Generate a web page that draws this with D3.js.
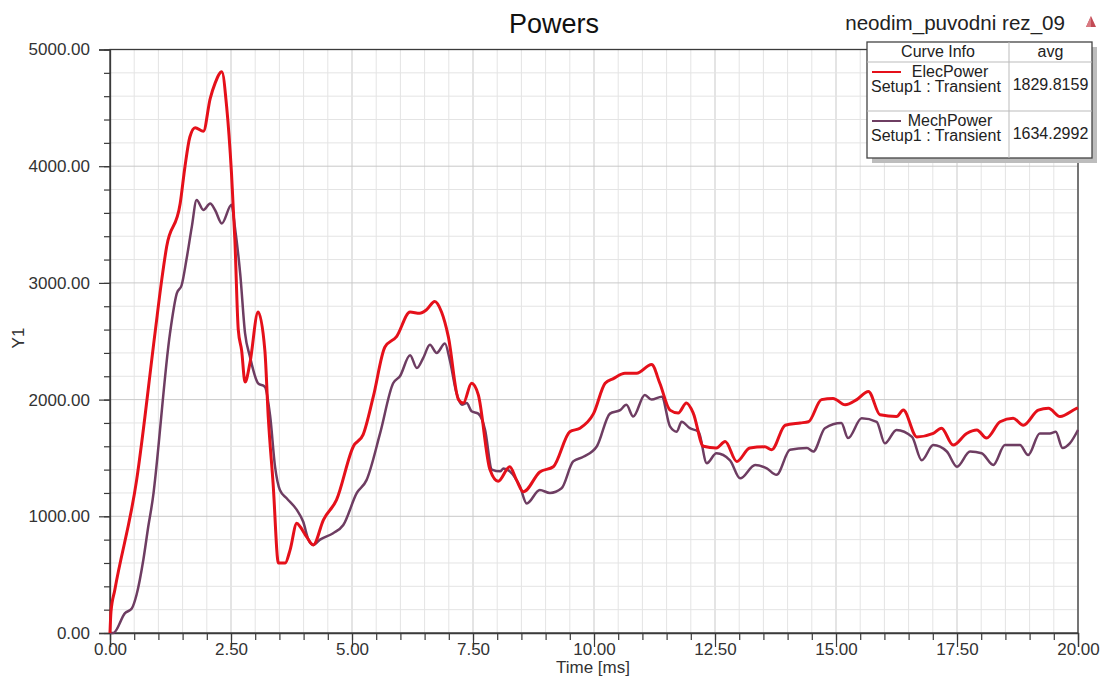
<!DOCTYPE html>
<html>
<head>
<meta charset="utf-8">
<script src="https://cdn.jsdelivr.net/npm/d3@7"></script>
<style>
  html, body { margin: 0; padding: 0; background: #fff; }
  svg { display: block; font-family: "Liberation Sans", Arial, sans-serif; }
</style>
</head>
<body>
<svg id="chart" width="1107" height="680"></svg>
<script>
// ---- data ----
const elecTime = [0,0.02,0.1,0.55,0.93,1.07,1.17,1.45,1.55,1.65,1.76,1.93,2.07,2.17,2.31,2.41,2.51,2.58,2.65,2.72,2.79,2.89,3.06,3.2,3.27,3.37,3.48,3.62,3.72,3.86,3.93,4.06,4.2,4.41,4.68,5.03,5.23,5.44,5.68,5.92,6.2,6.4,6.54,6.71,6.85,6.99,7.2,7.3,7.47,7.61,7.85,8.02,8.26,8.4,8.54,8.88,9.16,9.5,9.71,9.99,10.23,10.4,10.64,10.88,11.19,11.36,11.57,11.74,11.91,12.05,12.26,12.53,12.71,12.95,13.22,13.53,13.67,13.95,14.26,14.43,14.7,14.94,15.19,15.43,15.67,15.91,16.25,16.39,16.67,17.01,17.18,17.42,17.7,17.91,18.11,18.39,18.66,18.87,19.18,19.39,19.63,19.97,20];
const elecPower = [0,180,370,1310,2570,3030,3310,3680,4000,4250,4330,4300,4580,4710,4810,4510,3940,3370,2600,2420,2150,2310,2750,2420,1850,1280,600,600,710,940,910,825,755,970,1140,1600,1700,2025,2450,2540,2750,2740,2770,2840,2750,2540,2000,1970,2140,2040,1400,1300,1425,1310,1210,1380,1425,1725,1755,1880,2140,2180,2225,2225,2300,2140,1910,1885,1970,1885,1600,1585,1640,1470,1585,1595,1570,1780,1800,1810,2000,2010,1955,2000,2070,1870,1855,1910,1680,1710,1755,1610,1710,1740,1670,1810,1840,1780,1910,1925,1855,1925,1930];
const mechTime = [0,0.07,0.31,0.45,0.55,0.69,0.79,0.9,0.93,1.24,1.38,1.48,1.58,1.69,1.79,1.93,2.07,2.17,2.31,2.51,2.58,2.69,2.79,2.89,3.06,3.2,3.31,3.41,3.51,3.65,3.86,3.99,4.1,4.2,4.34,4.61,4.82,5.1,5.3,5.58,5.85,5.99,6.2,6.34,6.47,6.61,6.75,6.92,7.02,7.16,7.27,7.37,7.47,7.61,7.75,7.89,8.06,8.13,8.26,8.47,8.61,8.88,9.09,9.33,9.57,9.78,10.06,10.33,10.54,10.67,10.81,11.05,11.19,11.4,11.57,11.71,11.81,11.98,12.16,12.33,12.53,12.81,13.02,13.33,13.57,13.77,14.05,14.4,14.53,14.77,15.11,15.25,15.53,15.84,16.01,16.25,16.57,16.77,17.01,17.29,17.5,17.77,18.01,18.25,18.49,18.8,18.97,19.21,19.42,19.54,19.68,19.83,20];
const mechPower = [0,0,170,210,330,630,910,1200,1310,2570,2910,2980,3200,3480,3710,3625,3680,3625,3510,3670,3480,3080,2570,2370,2140,2110,1855,1425,1225,1155,1055,955,800,755,800,855,925,1200,1310,1710,2140,2200,2380,2270,2355,2470,2400,2480,2340,2055,1955,1970,1900,1880,1740,1400,1385,1410,1385,1255,1110,1225,1200,1240,1470,1510,1600,1880,1910,1955,1855,2040,2000,2025,1770,1725,1810,1755,1725,1455,1540,1480,1325,1440,1410,1355,1570,1585,1555,1755,1800,1670,1840,1810,1625,1740,1680,1480,1610,1555,1425,1555,1540,1440,1610,1610,1525,1710,1710,1725,1585,1625,1740];

const xMajorTicks = [0, 2.5, 5, 7.5, 10, 12.5, 15, 17.5, 20];
const yMajorTicks = [0, 1000, 2000, 3000, 4000, 5000];
const xMinorTicks = d3.range(0, 20.001, 0.5);
const yMinorTicks = d3.range(0, 5000.1, 200);

const legendNames = ["ElecPower", "MechPower"];
const legendSetup = ["Setup1 : Transient", "Setup1 : Transient"];
const legendAvg = ["1829.8159", "1634.2992"];
const seriesColors = ["#e5101a", "#6e3d62"];

// ---- layout ----
const svg = d3.select("#chart");
const L = 110, R = 1078, T = 49.5, B = 633;
const x = d3.scaleLinear().domain([0, 20]).range([L, R]);
const y = d3.scaleLinear().domain([0, 5000]).range([B, T]);

// grid
const grid = svg.append("g");
grid.selectAll("line.vx").data(xMinorTicks).enter().append("line")
  .attr("x1", d => x(d)).attr("x2", d => x(d)).attr("y1", T).attr("y2", B)
  .attr("stroke", d => (Math.abs(d / 2.5 - Math.round(d / 2.5)) < 1e-6) ? "#c9c9c9" : "#e4e4e4")
  .attr("stroke-width", 1);
grid.selectAll("line.hy").data(yMinorTicks).enter().append("line")
  .attr("y1", d => y(d)).attr("y2", d => y(d)).attr("x1", L).attr("x2", R)
  .attr("stroke", d => (d % 1000 === 0) ? "#c9c9c9" : "#e4e4e4")
  .attr("stroke-width", 1);

// frame
svg.append("rect").attr("x", L).attr("y", T).attr("width", R - L).attr("height", B - T)
  .attr("fill", "none").attr("stroke", "#3a3a3a").attr("stroke-width", 1.3);

// minor ticks
const xMinorAxis = svg.append("g").attr("transform", `translate(0,${B})`)
  .call(d3.axisBottom(x).tickValues(xMinorTicks).tickSize(7).tickFormat(""));
const yMinorAxis = svg.append("g").attr("transform", `translate(${L},0)`)
  .call(d3.axisLeft(y).tickValues(yMinorTicks).tickSize(6).tickFormat(""));
[xMinorAxis, yMinorAxis].forEach(g => {
  g.select(".domain").remove();
  g.selectAll("line").attr("stroke", "#3a3a3a").attr("stroke-width", 1.2);
});

// major axes
const fmt = d3.format(".2f");
const xAxis = svg.append("g").attr("transform", `translate(0,${B})`)
  .call(d3.axisBottom(x).tickValues(xMajorTicks).tickSize(14).tickFormat(fmt));
xAxis.select(".domain").attr("stroke", "#3a3a3a").attr("stroke-width", 1.3);
xAxis.selectAll("line").attr("stroke", "#3a3a3a").attr("stroke-width", 1.2);
xAxis.selectAll("text").attr("y", 10).attr("dy", "0.71em")
  .attr("font-size", 17).attr("fill", "#333").attr("font-family", "Liberation Sans, Arial, sans-serif");

const yAxis = svg.append("g").attr("transform", `translate(${L},0)`)
  .call(d3.axisLeft(y).tickValues(yMajorTicks).tickSize(11).tickPadding(9).tickFormat(fmt));
yAxis.select(".domain").attr("stroke", "#3a3a3a").attr("stroke-width", 1.3);
yAxis.selectAll("line").attr("stroke", "#3a3a3a").attr("stroke-width", 1.2);
yAxis.selectAll("text").attr("font-size", 17).attr("fill", "#333")
  .attr("font-family", "Liberation Sans, Arial, sans-serif");

// series
const line = d3.line().x(d => x(d[0])).y(d => y(d[1])).curve(d3.curveMonotoneX);
const plot = svg.append("g");
const mechData = d3.zip(mechTime, mechPower);
const elecData = d3.zip(elecTime, elecPower);
plot.append("path").datum(mechData).attr("d", line)
  .attr("fill", "none").attr("stroke", seriesColors[1]).attr("stroke-width", 2.5)
  .attr("stroke-linejoin", "round");
plot.append("path").datum(elecData).attr("d", line)
  .attr("fill", "none").attr("stroke", seriesColors[0]).attr("stroke-width", 3)
  .attr("stroke-linejoin", "round");

// titles
svg.append("text").attr("x", 554).attr("y", 33).attr("text-anchor", "middle")
  .attr("font-size", 27).attr("fill", "#111").text("Powers");
svg.append("text").attr("x", 1065).attr("y", 30).attr("text-anchor", "end")
  .attr("font-size", 20.6).attr("fill", "#222").text("neodim_puvodni rez_09");
svg.append("path").attr("d", "M1091,16 L1096,27 L1086,27 Z").attr("fill", "#c24a55");
svg.append("path").attr("d", "M1091,16 L1091,27 L1086,27 Z").attr("fill", "#d97a82");
svg.append("text").attr("x", 593).attr("y", 673).attr("text-anchor", "middle")
  .attr("font-size", 17).attr("fill", "#333").text("Time [ms]");
svg.append("text").attr("transform", "translate(24,338) rotate(-90)").attr("text-anchor", "middle")
  .attr("font-size", 17).attr("fill", "#333").text("Y1");

// legend
const lg = svg.append("g");
const lx0 = 867, lx1 = 1092, ly0 = 42, ly1 = 158, lxm = 1009, lyh = 62, lyr = 111;
lg.append("rect").attr("x", lx0 + 5).attr("y", ly0 + 5).attr("width", lx1 - lx0).attr("height", ly1 - ly0)
  .attr("fill", "#bdbdbd");
lg.append("rect").attr("x", lx0).attr("y", ly0).attr("width", lx1 - lx0).attr("height", ly1 - ly0)
  .attr("fill", "#fff").attr("stroke", "#444").attr("stroke-width", 1.3);
lg.append("line").attr("x1", lxm).attr("x2", lxm).attr("y1", ly0).attr("y2", ly1).attr("stroke", "#bbb");
lg.append("line").attr("x1", lx0).attr("x2", lx1).attr("y1", lyh).attr("y2", lyh).attr("stroke", "#bbb");
lg.append("line").attr("x1", lx0).attr("x2", lx1).attr("y1", lyr).attr("y2", lyr).attr("stroke", "#bbb");
lg.append("text").attr("x", (lx0 + lxm) / 2).attr("y", 57).attr("text-anchor", "middle")
  .attr("font-size", 16).attr("fill", "#222").text("Curve Info");
lg.append("text").attr("x", (lxm + lx1) / 2).attr("y", 57).attr("text-anchor", "middle")
  .attr("font-size", 16).attr("fill", "#222").text("avg");
const rowTop = [ly0 + 20, lyr];
legendNames.forEach((n, i) => {
  const top = rowTop[i];
  lg.append("line").attr("x1", 872).attr("x2", 901).attr("y1", top + 10).attr("y2", top + 10)
    .attr("stroke", seriesColors[i]).attr("stroke-width", 2);
  lg.append("text").attr("x", 950).attr("y", top + 15).attr("text-anchor", "middle")
    .attr("font-size", 16).attr("fill", "#222").text(n);
  lg.append("text").attr("x", 871).attr("y", top + 30)
    .attr("font-size", 16).attr("fill", "#222").text(legendSetup[i]);
  lg.append("text").attr("x", (lxm + lx1) / 2).attr("y", top + 28).attr("text-anchor", "middle")
    .attr("font-size", 16).attr("fill", "#222").text(legendAvg[i]);
});
</script>
</body>
</html>
